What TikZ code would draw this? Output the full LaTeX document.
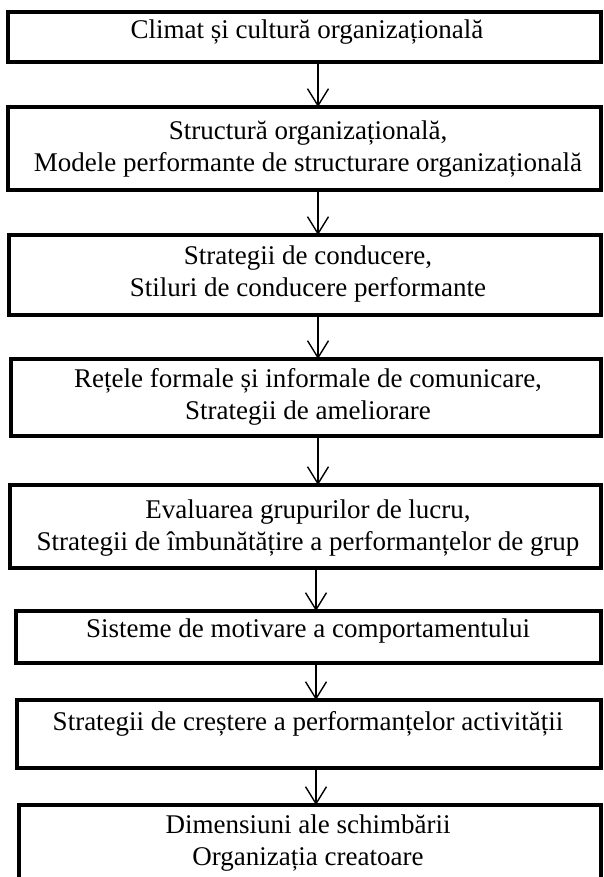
\documentclass[tikz,border=0pt]{standalone}
\usepackage{fontspec}
\setmainfont{Liberation Serif}
\usetikzlibrary{arrows.meta}
\begin{document}
\begin{tikzpicture}[x=1pt,y=-1pt,
  stagebox/.style={draw=black,line width=3.2pt,rectangle,inner sep=0pt,outer sep=0pt,anchor=north west},
  stagetext/.style={align=center,inner sep=0pt,font=\fontsize{27}{31.5}\selectfont},
  flow/.style={line width=1.4pt,-{Straight Barb[length=17pt,width=21pt,line width=1.4pt]}}]
\useasboundingbox (0,0) rectangle (603,877);
% stage frames (left, top, width, height)
\node[stagebox,minimum width=593pt,minimum height=50pt] (b1) at (8,12) {};
\node[stagebox,minimum width=593pt,minimum height=83pt] (b2) at (8,107) {};
\node[stagebox,minimum width=592pt,minimum height=80pt] (b3) at (9,235) {};
\node[stagebox,minimum width=590pt,minimum height=77pt] (b4) at (11,359) {};
\node[stagebox,minimum width=591pt,minimum height=83pt] (b5) at (10,485) {};
\node[stagebox,minimum width=585pt,minimum height=52pt] (b6) at (16,611) {};
\node[stagebox,minimum width=584pt,minimum height=68pt] (b7) at (17,700) {};
\node[stagebox,minimum width=582pt,minimum height=90pt] (b8) at (19,805) {};
% stage texts
\node[stagetext] (t1) at (307,32) {Climat și cultură organizațională};
\node[stagetext] (t2) at (308,149) {Structură organizațională,\\Modele performante de structurare organizațională};
\node[stagetext] (t3) at (308,274) {Strategii de conducere,\\Stiluri de conducere performante};
\node[stagetext] (t4) at (308,397) {Rețele formale și informale de comunicare,\\Strategii de ameliorare};
\node[stagetext] (t5) at (308,528) {Evaluarea grupurilor de lucru,\\Strategii de îmbunătățire a performanțelor de grup};
\node[stagetext] (t6) at (308,631) {Sisteme de motivare a comportamentului};
\node[stagetext] (t7) at (308,724) {Strategii de creștere a performanțelor activității};
\node[stagetext] (t8) at (308,843) {Dimensiuni ale schimbării\\Organizația creatoare};
% connectors
\coordinate (ax) at (318,0);
\coordinate (bx) at (316,0);
\draw[flow] (b1.south -| ax) -- (b2.north -| ax);
\draw[flow] (b2.south -| ax) -- (b3.north -| ax);
\draw[flow] (b3.south -| ax) -- (b4.north -| ax);
\draw[flow] (b4.south -| ax) -- (b5.north -| ax);
\draw[flow] (b5.south -| bx) -- (b6.north -| bx);
\draw[flow] (b6.south -| bx) -- (b7.north -| bx);
\draw[flow] (b7.south -| bx) -- (b8.north -| bx);
\end{tikzpicture}
\end{document}
